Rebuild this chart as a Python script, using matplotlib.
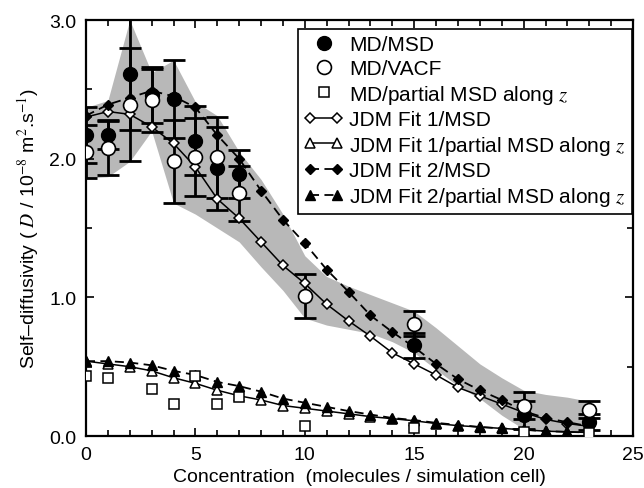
import matplotlib
matplotlib.use("Agg")
import matplotlib.pyplot as plt
from matplotlib.legend_handler import HandlerLine2D
from matplotlib.ticker import MultipleLocator

plt.rcParams['font.family'] = ['Liberation Sans', 'DejaVu Sans']
plt.rcParams['mathtext.fontset'] = 'stix'

# --- DADOS ---
conc = list(range(24))

# MD / MSD (circulos cheios)
md_msd_x = [0, 1, 2, 3, 4, 5, 6, 7, 15, 20, 23]
md_msd_y = [2.17, 2.17, 2.61, 2.46, 2.43, 2.13, 1.93, 1.89, 0.655, 0.15, 0.10]
md_msd_err = [0.20, 0.10, 0.40, 0.20, 0.28, 0.25, 0.30, 0.17, 0.09, 0.10, 0.06]

# MD / VACF (circulos abertos)
md_vacf_x = [0, 1, 2, 3, 4, 5, 6, 7, 10, 15, 20, 23]
md_vacf_y = [2.05, 2.08, 2.39, 2.42, 1.98, 2.01, 2.01, 1.75, 1.01, 0.81, 0.22, 0.19]
md_vacf_err = [0.19, 0.20, 0.41, 0.23, 0.30, 0.28, 0.29, 0.20, 0.16, 0.09, 0.10, 0.06]

# MD / MSD parcial ao longo de z (quadrados)
md_z_x = [0, 1, 3, 4, 5, 6, 7, 10, 15, 20, 23]
md_z_y = [0.43, 0.42, 0.34, 0.23, 0.43, 0.23, 0.28, 0.07, 0.06, 0.03, 0.02]

# JDM Fit 1 / MSD
fit1_msd = [2.30, 2.34, 2.32, 2.23, 2.11, 1.94, 1.71, 1.57, 1.40, 1.23, 1.10, 0.95,
            0.83, 0.72, 0.60, 0.52, 0.44, 0.35, 0.29, 0.23, 0.17, 0.12, 0.09, 0.07]
# JDM Fit 1 / parcial z
fit1_z = [0.54, 0.52, 0.50, 0.47, 0.42, 0.38, 0.33, 0.29, 0.26, 0.22, 0.20, 0.18,
          0.16, 0.14, 0.125, 0.11, 0.09, 0.075, 0.065, 0.055, 0.045, 0.035, 0.03, 0.025]
# JDM Fit 2 / MSD
fit2_msd = [2.31, 2.39, 2.44, 2.49, 2.45, 2.37, 2.17, 2.00, 1.77, 1.56, 1.39, 1.20,
            1.04, 0.87, 0.75, 0.64, 0.52, 0.41, 0.33, 0.26, 0.18, 0.13, 0.10, 0.07]
# JDM Fit 2 / parcial z
fit2_z = [0.54, 0.54, 0.53, 0.51, 0.47, 0.44, 0.39, 0.36, 0.32, 0.27, 0.24, 0.21,
          0.18, 0.155, 0.13, 0.115, 0.095, 0.08, 0.065, 0.055, 0.045, 0.035, 0.03, 0.025]

# Banda cinzenta (limites)
banda_sup = [2.37, 2.42, 3.00, 2.62, 2.71, 2.41, 2.31, 2.05, 1.85, 1.60, 1.30, 1.15,
             1.08, 1.02, 0.96, 0.90, 0.78, 0.65, 0.52, 0.42, 0.33, 0.30, 0.28, 0.25]
banda_inf = [1.86, 1.87, 1.98, 2.20, 1.68, 1.60, 1.50, 1.40, 1.22, 1.05, 0.85, 0.80,
             0.77, 0.74, 0.68, 0.60, 0.48, 0.36, 0.27, 0.15, 0.05, 0.04, 0.04, 0.04]

fig = plt.figure(figsize=(6.44, 4.89), dpi=100)
ax = fig.add_axes([0.1335, 0.1063, 0.8495, 0.8507])

ax.fill_between(conc, banda_inf, banda_sup, color='0.72', lw=0, zorder=1)

# Erros (MD)
ax.errorbar(md_msd_x, md_msd_y, yerr=md_msd_err, fmt='none', ecolor='k',
            elinewidth=2, capsize=8, capthick=2, zorder=3)
ax.errorbar(md_vacf_x, md_vacf_y, yerr=md_vacf_err, fmt='none', ecolor='k',
            elinewidth=2, capsize=8, capthick=2, zorder=3)

# Curvas JDM
l_f1 = ax.plot(conc, fit1_msd, '-', color='k', lw=1.1, marker='D', ms=5.5,
               mfc='white', mec='k', mew=1.1, zorder=4, label='JDM Fit 1/MSD')[0]
l_f1z = ax.plot(conc, fit1_z, '-', color='k', lw=1.1, marker='^', ms=7.5,
                mfc='white', mec='k', mew=1.1, zorder=4,
                label='JDM Fit 1/partial MSD along $z$')[0]
l_f2 = ax.plot(conc, fit2_msd, '--', color='k', lw=1.3, dashes=(5, 3), marker='D', ms=5.5,
               mfc='k', mec='k', zorder=4, label='JDM Fit 2/MSD')[0]
l_f2z = ax.plot(conc, fit2_z, '--', color='k', lw=1.3, dashes=(5, 3), marker='^', ms=7.5,
                mfc='k', mec='k', zorder=4,
                label='JDM Fit 2/partial MSD along $z$')[0]

# Pontos MD
l_msd = ax.plot(md_msd_x, md_msd_y, 'o', ms=10, mfc='k', mec='k', zorder=5,
                label='MD/MSD')[0]
l_vacf = ax.plot(md_vacf_x, md_vacf_y, 'o', ms=10, mfc='white', mec='k', mew=1.2,
                 zorder=6, label='MD/VACF')[0]
l_z = ax.plot(md_z_x, md_z_y, 's', ms=7.5, mfc='white', mec='k', mew=1.1, zorder=5,
              label='MD/partial MSD along $z$')[0]

ax.set_xlim(0, 25)
ax.set_ylim(0, 3.0)
ax.xaxis.set_major_locator(MultipleLocator(5))
ax.xaxis.set_minor_locator(MultipleLocator(1))
ax.yaxis.set_minor_locator(MultipleLocator(0.5))
ax.set_yticks([0, 1, 2, 3])
ax.set_yticklabels(['0.0', '1.0', '2.0', '3.0'])
ax.tick_params(which='both', direction='in', top=True, right=True, labelsize=14, width=1.2)
ax.tick_params(which='major', length=6, pad=7)
ax.tick_params(which='minor', length=4)
for s in ax.spines.values():
    s.set_linewidth(1.6)

ax.set_xlabel('Concentration  (molecules / simulation cell)', fontsize=14, labelpad=4)
ax.set_ylabel(r'Self–diffusivity ( $D$ / 10$^{-8}$ m$^{2}$.s$^{-1}$)', fontsize=14, labelpad=6)

handles = [l_msd, l_vacf, l_z, l_f1, l_f1z, l_f2, l_f2z]
leg = ax.legend(handles=handles, loc='upper right', bbox_to_anchor=(0.998, 0.978),
                borderaxespad=0, fontsize=15, fancybox=False, framealpha=1,
                edgecolor='k', handlelength=1.9, handletextpad=0.25,
                labelspacing=0.22, borderpad=0.3, numpoints=2,
                handler_map={l_msd: HandlerLine2D(numpoints=1),
                             l_vacf: HandlerLine2D(numpoints=1),
                             l_z: HandlerLine2D(numpoints=1)})
leg.get_frame().set_linewidth(1.2)
leg.set_zorder(10)

fig.savefig('out.png', dpi=100)
